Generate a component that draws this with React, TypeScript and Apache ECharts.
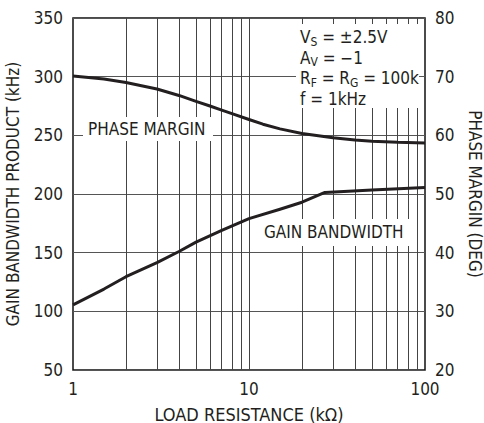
import React, { useEffect, useRef } from "react";
import * as echarts from "echarts";

const FONT = "'DejaVu Sans Condensed', 'Liberation Sans', sans-serif";
const INK = "#231f20";

// Load resistance (kΩ)
const gainR = [1, 1.5, 2, 3, 4, 5, 7, 10, 15, 20, 27, 50, 100];
// Gain bandwidth product (kHz)
const gainBW = [105.5, 119, 129.5, 141.5, 151, 159, 169, 179, 187, 193, 201.3, 203.4, 205.5];

const phaseR = [1, 1.5, 2, 3, 4, 5, 6, 7, 8, 10, 12, 15, 20, 30, 40, 50, 70, 100];
// Phase margin (deg)
const phaseDeg = [70.1, 69.6, 69.0, 67.9, 66.8, 65.8, 65.0, 64.3, 63.7, 62.7, 61.9, 61.1, 60.3, 59.6, 59.2, 59.0, 58.8, 58.7];

// vertical log grid lines
const gridR = [2, 3, 4, 5, 6, 7, 8, 9, 10, 20, 30, 40, 50, 60, 70, 80, 90];

export default function App() {
  const ref = useRef<HTMLDivElement>(null);
  useEffect(() => {
    if (!ref.current) return;
    const chart = echarts.init(ref.current, null, { renderer: "svg" });
    chart.setOption({
      animation: false,
      grid: {
        left: 73,
        right: 59,
        top: 18,
        bottom: 53,
        containLabel: false,
        outerBoundsMode: "none",
        show: true,
        borderColor: "#111",
        borderWidth: 1.5,
      },
      xAxis: {
        type: "log",
        logBase: 10,
        min: 1,
        max: 100,
        axisLine: { show: false },
        axisTick: { show: false },
        splitLine: { show: false },
        axisLabel: { fontSize: 17, color: INK, fontFamily: FONT, margin: 10 },
        name: "LOAD RESISTANCE (kΩ)",
        nameLocation: "middle",
        nameGap: 35,
        nameTextStyle: { fontSize: 18, color: INK, fontFamily: FONT },
      },
      yAxis: [
        {
          type: "value",
          min: 50,
          max: 350,
          interval: 50,
          axisLine: { show: false },
          axisTick: { show: false },
          splitLine: { show: true, lineStyle: { color: "#555", width: 1 } },
          axisLabel: { fontSize: 17, color: INK, fontFamily: FONT, margin: 10 },
          name: "GAIN BANDWIDTH PRODUCT (kHz)",
          nameLocation: "middle",
          nameGap: 52,
          nameTextStyle: { fontSize: 17, color: INK, fontFamily: FONT },
        },
        {
          type: "value",
          min: 20,
          max: 80,
          interval: 10,
          position: "right",
          axisLine: { show: false },
          axisTick: { show: false },
          splitLine: { show: false },
          axisLabel: { fontSize: 17, color: INK, fontFamily: FONT, margin: 10 },
          name: "PHASE MARGIN (DEG)",
          nameLocation: "middle",
          nameRotate: -90,
          nameGap: 41,
          nameTextStyle: { fontSize: 17, color: INK, fontFamily: FONT },
        },
      ],
      series: [
        {
          type: "line",
          yAxisIndex: 0,
          data: gainR.map((r, i) => [r, gainBW[i]]),
          showSymbol: false,
          smooth: false,
          lineStyle: { color: INK, width: 3, join: "round" },
          z: 5,
          markLine: {
            silent: true,
            symbol: ["none", "none"],
            label: { show: false },
            lineStyle: { color: "#444", width: 1, type: "solid" },
            data: gridR.map((v) => ({ xAxis: v })),
          },
        },
        {
          type: "line",
          yAxisIndex: 1,
          data: phaseR.map((r, i) => [r, phaseDeg[i]]),
          showSymbol: false,
          smooth: false,
          lineStyle: { color: INK, width: 3, join: "round" },
          z: 5,
        },
      ],
      graphic: [
        { type: "rect", z: 50, shape: { x: 296, y: 24, width: 123, height: 84 }, style: { fill: "#fff" } },
        { type: "rect", z: 50, shape: { x: 83, y: 117, width: 130, height: 24 }, style: { fill: "#fff" } },
        { type: "rect", z: 50, shape: { x: 258, y: 219, width: 151, height: 27 }, style: { fill: "#fff" } },
        {
          type: "text",
          z: 60,
          x: 300,
          y: 27,
          style: {
            text:
              "{m|V}{s|S}{m| = ±2.5V}\n{m|A}{s|V}{m| = −1}\n{m|R}{s|F}{m| = R}{s|G}{m| = 100k}\n{m|f = 1kHz}",
            fill: INK,
            rich: {
              m: { fontSize: 17, lineHeight: 20.5, fontFamily: FONT, fill: INK },
              s: { fontSize: 12, lineHeight: 8, verticalAlign: "bottom", fontFamily: FONT, fill: INK },
            },
          },
        },
        {
          type: "text",
          z: 60,
          x: 88,
          y: 129,
          style: { text: "PHASE MARGIN", fontSize: 17, fontFamily: FONT, fill: INK, textVerticalAlign: "middle" },
        },
        {
          type: "text",
          z: 60,
          x: 264,
          y: 232,
          style: { text: "GAIN BANDWIDTH", fontSize: 17, fontFamily: FONT, fill: INK, textVerticalAlign: "middle" },
        },
      ],
    });
    return () => chart.dispose();
  }, []);
  return (
    <div
      ref={ref}
      style={{ position: "fixed", left: 0, top: 0, width: 484, height: 423, background: "#fff" }}
    />
  );
}
